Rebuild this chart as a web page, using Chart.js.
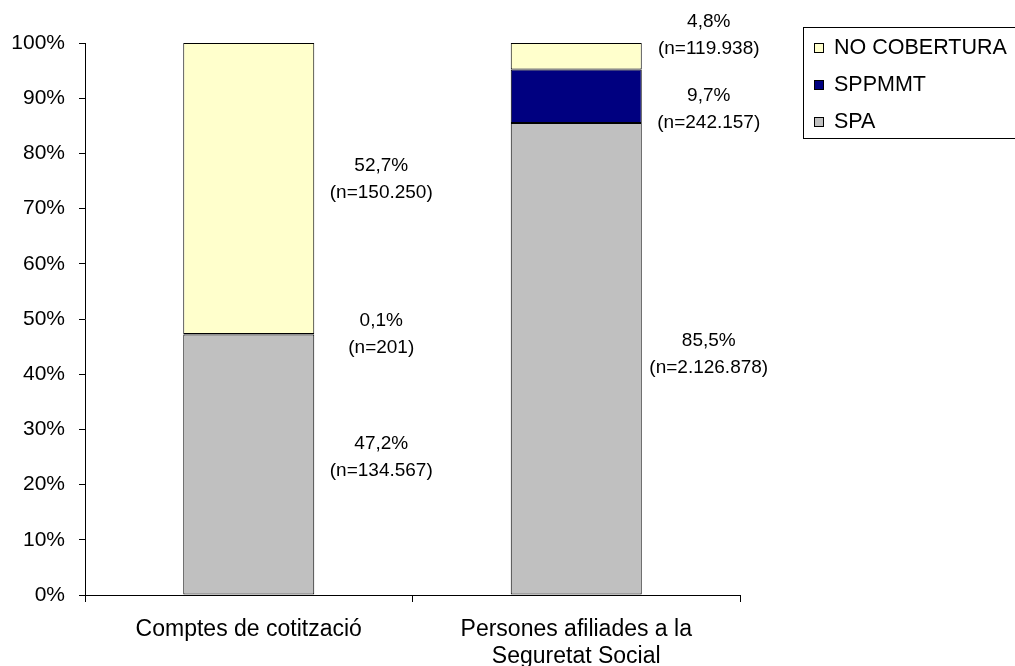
<!DOCTYPE html>
<html>
<head>
<meta charset="utf-8">
<script src="https://cdn.jsdelivr.net/npm/chart.js@4/dist/chart.umd.min.js"></script>
<style>
  html, body { margin: 0; padding: 0; background: #fff; }
  #wrap { width: 1015px; height: 666px; }
</style>
</head>
<body>
<div id="wrap"><canvas id="chart"></canvas></div>
<script>
// categories and values (% of each column)
var categories = [["Comptes de cotització"], ["Persones afiliades a la", "Seguretat Social"]];
var spa = [47.2, 85.5];
var sppmmt = [0.1, 9.7];
var noCobertura = [52.7, 4.8];
// counts shown under the percentages
var nSpa = ["134.567", "2.126.878"];
var nSppmmt = ["201", "242.157"];
var nNo = ["150.250", "119.938"];

var FONT = "'Liberation Sans', Arial, sans-serif";

// vertical nudge (px) of each label block from its segment middle, so they don't collide
var labelShift = [
  [-7, -5],   // SPA
  [0, 13],    // SPPMMT
  [-9, -21]   // NO COBERTURA
];

function pct(v) {
  return v.toFixed(1).replace(".", ",") + "%";
}

// labels next to the bars: "xx,x%" and "(n=...)"
var sideLabels = {
  id: "sideLabels",
  afterDatasetsDraw: function (chart) {
    var ctx = chart.ctx;
    var counts = [nSpa, nSppmmt, nNo];
    ctx.save();
    ctx.font = "19px " + FONT;
    ctx.fillStyle = "#000";
    ctx.textAlign = "center";
    ctx.textBaseline = "middle";
    chart.data.datasets.forEach(function (ds, di) {
      var meta = chart.getDatasetMeta(di);
      meta.data.forEach(function (bar, i) {
        var top = Math.min(bar.y, bar.base);
        var bottom = Math.max(bar.y, bar.base);
        var cx = bar.x + bar.width / 2 + 67;
        var cy = (top + bottom) / 2 + labelShift[di][i];
        ctx.fillText(pct(ds.data[i]), cx, cy - 13.5);
        ctx.fillText("(n=" + counts[di][i] + ")", cx, cy + 13.5);
      });
    });
    ctx.restore();
  }
};

// boxed legend at the top right, last series first
var boxLegend = {
  id: "boxLegend",
  afterDraw: function (chart) {
    var ctx = chart.ctx;
    var x0 = 803, y0 = 27, h = 111;
    ctx.save();
    ctx.strokeStyle = "#000";
    ctx.lineWidth = 1;
    ctx.strokeRect(x0 + 0.5, y0 + 0.5, 240, h);
    ctx.font = "21.5px " + FONT;
    ctx.textBaseline = "middle";
    var rows = [47, 84, 121];
    var order = chart.data.datasets.slice().reverse();
    order.forEach(function (ds, k) {
      var y = rows[k];
      ctx.fillStyle = ds.backgroundColor;
      ctx.fillRect(814.5, y - 3.5, 9, 9);
      ctx.strokeRect(814.5, y - 3.5, 9, 9);
      ctx.fillStyle = "#000";
      ctx.fillText(ds.label, 834, y + 1);
    });
    ctx.restore();
  }
};

var common = {
  borderColor: "#000",
  borderWidth: 1,
  borderSkipped: false,
  barPercentage: 0.4,
  categoryPercentage: 1
};

new Chart(document.getElementById("chart"), {
  type: "bar",
  data: {
    labels: categories,
    datasets: [
      Object.assign({ label: "SPA", data: spa, backgroundColor: "#C0C0C0" }, common),
      Object.assign({ label: "SPPMMT", data: sppmmt, backgroundColor: "#000080" }, common),
      Object.assign({ label: "NO COBERTURA", data: noCobertura, backgroundColor: "#FFFFCC" }, common)
    ]
  },
  options: {
    responsive: true,
    maintainAspectRatio: false,
    animation: false,
    layout: { padding: { top: 43, right: 275, bottom: 0, left: 0 } },
    plugins: {
      legend: { display: false },
      tooltip: { enabled: false }
    },
    scales: {
      x: {
        stacked: true,
        grid: { offset: true, drawOnChartArea: false, drawTicks: true, tickLength: 7, color: "#000" },
        border: { display: true, color: "#000", width: 1 },
        ticks: {
          color: "#000",
          maxRotation: 0,
          padding: 14,
          font: { family: FONT, size: 23, lineHeight: 1.17 }
        },
        afterFit: function (scale) { scale.height = 71; }
      },
      y: {
        stacked: true,
        min: 0,
        max: 100,
        grid: { drawOnChartArea: false, drawTicks: true, tickLength: 6, color: "#000" },
        border: { display: true, color: "#000", width: 1 },
        ticks: {
          stepSize: 10,
          color: "#000",
          padding: 14,
          font: { family: FONT, size: 21 },
          callback: function (value) { return value + "%"; }
        },
        afterFit: function (scale) { scale.width = 85; }
      }
    }
  },
  plugins: [sideLabels, boxLegend]
});
</script>
</body>
</html>
